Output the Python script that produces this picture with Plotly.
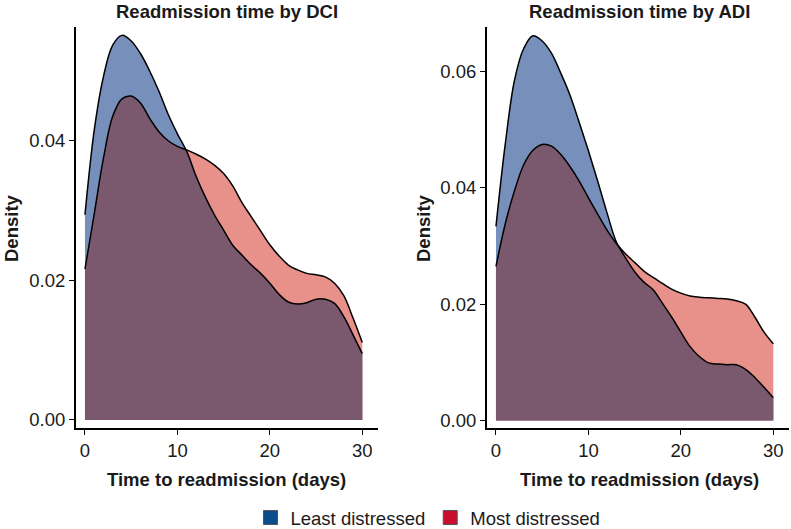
import plotly.graph_objects as go
import numpy as np

days = list(range(31))

dci_least = [0.0294, 0.0415, 0.0492, 0.0537, 0.0551, 0.0543, 0.0525, 0.0500, 0.0471, 0.0438,
             0.0410, 0.0385, 0.0350, 0.0320, 0.0294, 0.0272, 0.0250, 0.0236, 0.0222, 0.0210,
             0.0196, 0.0180, 0.0169, 0.0166, 0.0168, 0.0173, 0.0173, 0.0167, 0.0148, 0.0122,
             0.0095]
dci_most = [0.0216, 0.0295, 0.0375, 0.0435, 0.0460, 0.0464, 0.0454, 0.0432, 0.0413, 0.0400,
            0.0392, 0.0387, 0.0381, 0.0374, 0.0365, 0.0353, 0.0335, 0.0311, 0.0291, 0.0271,
            0.0251, 0.0235, 0.0222, 0.0215, 0.0210, 0.0208, 0.0205, 0.0196, 0.0178, 0.0146,
            0.0111]
adi_least = [0.0334, 0.0475, 0.0585, 0.0640, 0.0662, 0.0653, 0.0632, 0.0598, 0.0560, 0.0513,
             0.0464, 0.0412, 0.0358, 0.0308, 0.0280, 0.0256, 0.0238, 0.0225, 0.0202, 0.0178,
             0.0152, 0.0127, 0.0110, 0.0099, 0.0097, 0.0096, 0.0096, 0.0088, 0.0074, 0.0057,
             0.0039]
adi_most = [0.0265, 0.0338, 0.0395, 0.0440, 0.0465, 0.0475, 0.0472, 0.0458, 0.0437, 0.0412,
            0.0383, 0.0355, 0.0328, 0.0305, 0.0287, 0.0272, 0.0257, 0.0246, 0.0236, 0.0226,
            0.0219, 0.0214, 0.0212, 0.0211, 0.0210, 0.0209, 0.0206, 0.0200, 0.0178, 0.0152,
            0.0132]

group_names = ["Least distressed", "Most distressed"]
legend_colors = ["#0b4c8c", "#c8102e"]
titles = ["Readmission time by DCI", "Readmission time by ADI"]
x_ticks = [0, 10, 20, 30]
y_ticks_left = [0.00, 0.02, 0.04]
y_ticks_right = [0.00, 0.02, 0.04, 0.06]

BLUE_FILL = "#7690bb"
RED_FILL = "#e8908a"
OVER_FILL = "#7a586e"
FONT = "Liberation Sans, Arial, sans-serif"
FS = 18.5

W, H = 791, 529

fig = go.Figure()
panels = [("x", "y", dci_least, dci_most), ("x2", "y2", adi_least, adi_most)]
for xa, ya, least, most in panels:
    overlap = np.minimum(np.array(least), np.array(most))
    for vals, col in [(least, BLUE_FILL), (most, RED_FILL), (overlap, OVER_FILL)]:
        fig.add_trace(go.Scatter(
            x=days, y=list(vals), xaxis=xa, yaxis=ya, mode="lines",
            line=dict(width=0, shape="spline", color=col),
            fill="tozeroy", fillcolor=col, showlegend=False, hoverinfo="skip"))
    for vals in (least, most):
        fig.add_trace(go.Scatter(
            x=days, y=vals, xaxis=xa, yaxis=ya, mode="lines",
            line=dict(width=1.5, shape="spline", color="black"),
            showlegend=False, hoverinfo="skip"))

for name, col in zip(group_names, legend_colors):
    fig.add_trace(go.Scatter(
        x=[None], y=[None], mode="markers", name=name,
        marker=dict(symbol="square", size=14, color=col, line=dict(color="#555555", width=1))))

ydom = [1 - 428 / H, 1 - 27 / H]
tickfont = dict(family=FONT, size=FS, color="#1a1a1a")
common_x = dict(range=[-0.97, 31.7], tickvals=x_ticks, ticks="outside", ticklen=5, tickwidth=1,
                tickcolor="black", showline=True, linewidth=2, linecolor="black",
                showgrid=False, zeroline=False, tickfont=tickfont, automargin=False)
common_y = dict(tickformat=".2f", ticks="outside", ticklen=5, tickwidth=1,
                tickcolor="black", showline=True, linewidth=2, linecolor="black",
                showgrid=False, zeroline=False, domain=ydom, tickfont=tickfont,
                automargin=False)

fig.update_layout(
    width=W, height=H, autosize=False,
    margin=dict(l=0, r=0, t=0, b=0, autoexpand=False),
    plot_bgcolor="white", paper_bgcolor="white",
    xaxis=dict(domain=[76 / W, 378 / W], anchor="y", **common_x),
    yaxis=dict(range=[-0.00115, 0.0563], tickvals=y_ticks_left, anchor="x", **common_y),
    xaxis2=dict(domain=[487 / W, 789 / W], anchor="y2", **common_x),
    yaxis2=dict(range=[-0.0013, 0.0677], tickvals=y_ticks_right, anchor="x2", **common_y),
    legend=dict(orientation="h", x=428 / W, xanchor="center", y=1 - 518 / H, yanchor="middle",
                font=dict(family=FONT, size=FS, color="#1a1a1a"), itemwidth=30,
                bgcolor="rgba(0,0,0,0)"),
    showlegend=True,
)

ann = []
centers = [227, 639]
for cx, t in zip(centers, titles):
    ann.append(dict(text="<b>" + t + "</b>", x=cx / W, y=1 - 12 / H, xref="paper", yref="paper",
                    showarrow=False, xanchor="center", yanchor="middle",
                    font=dict(family=FONT, size=FS, color="#1a1a1a")))
    ann.append(dict(text="<b>Time to readmission (days)</b>", x=cx / W, y=1 - 479 / H,
                    xref="paper", yref="paper", showarrow=False, xanchor="center",
                    yanchor="middle", font=dict(family=FONT, size=FS, color="#1a1a1a")))
for lx in [11, 423]:
    ann.append(dict(text="<b>Density</b>", x=lx / W, y=1 - 228 / H, xref="paper", yref="paper",
                    showarrow=False, xanchor="center", yanchor="middle", textangle=-90,
                    font=dict(family=FONT, size=FS, color="#1a1a1a")))
fig.update_layout(annotations=ann)

page_css = ("document.documentElement.style.margin='0';"
            "document.documentElement.style.overflow='hidden';"
            "document.body.style.margin='0';"
            "document.body.style.overflow='hidden';"
            "document.body.style.height='529px';")
fig.write_html("out.html", config={"displayModeBar": False}, post_script=page_css)
